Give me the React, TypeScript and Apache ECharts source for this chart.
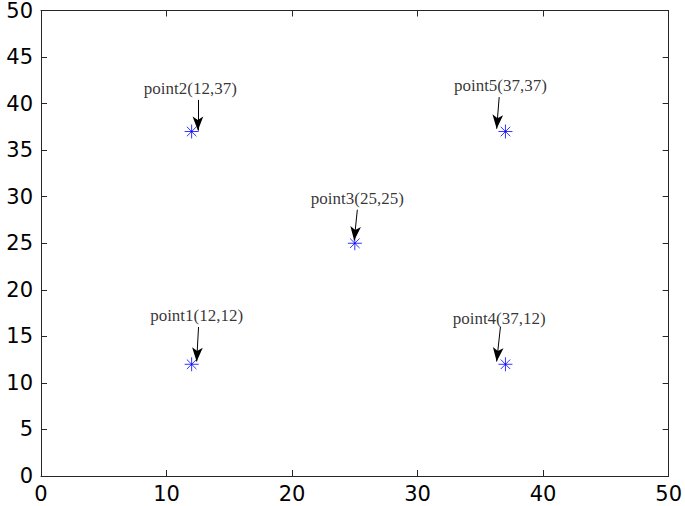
import React, { useEffect, useRef } from "react";
import * as echarts from "echarts";

const pointNames = ["point1", "point2", "point3", "point4", "point5"];
const pointX = [12, 12, 25, 37, 37];
const pointY = [12, 37, 25, 12, 37];
// annotation text anchor (data coords)
const textX = [12.4, 11.9, 25.2, 36.5, 36.6];
const textY = [17.2, 41.6, 29.8, 16.9, 41.9];
// arrow tail and head (data coords)
const arrowFromX = [12.55, 12.5, 25.2, 36.6, 36.5];
const arrowFromY = [16.0, 40.4, 28.6, 16.0, 40.7];
const arrowToX = [12.4, 12.5, 24.95, 36.3, 36.3];
const arrowToY = [12.3, 37.1, 25.3, 12.3, 37.3];
const axisTicks = [0, 5, 10, 15, 20, 25, 30, 35, 40, 45, 50];

const ASTERISK = "path://M0,5L10,5M5,0L5,10M1.6,1.6L8.4,8.4M8.4,1.6L1.6,8.4";

export default function App() {
  const ref = useRef<HTMLDivElement>(null);
  useEffect(() => {
    if (!ref.current) return;
    const chart = echarts.init(ref.current, undefined, { renderer: "svg" });
    const axisColor = "#262626";
    const labelFont = { fontFamily: "DejaVu Sans", fontSize: 21, color: "#000" };
    const baseX = {
      type: "value",
      min: axisTicks[0],
      max: axisTicks[axisTicks.length - 1],
      interval: 5,
      axisLine: { show: true, onZero: false, lineStyle: { color: axisColor, width: 1 } },
      axisTick: { show: true, inside: true, length: 6, lineStyle: { color: axisColor } },
      splitLine: { show: false },
    };
    const option: any = {
      animation: false,
      backgroundColor: "#fff",
      grid: { left: 41, right: 15, top: 8, bottom: 30, containLabel: false },
      xAxis: [
        { ...baseX, interval: 10, position: "bottom", axisLabel: { ...labelFont, margin: 7 } },
        { ...baseX, interval: 10, position: "top", axisLabel: { show: false } },
      ],
      yAxis: [
        { ...baseX, position: "left", axisLabel: { ...labelFont, margin: 8 } },
        { ...baseX, position: "right", axisLabel: { show: false } },
      ],
      series: [
        {
          type: "scatter",
          xAxisIndex: 0,
          yAxisIndex: 0,
          symbol: ASTERISK,
          symbolSize: 14,
          itemStyle: { color: "none", borderColor: "#0000ff", borderWidth: 1 },
          data: pointX.map((x, i) => [x, pointY[i]]),
          z: 3,
        },
        {
          type: "scatter",
          xAxisIndex: 0,
          yAxisIndex: 0,
          symbolSize: 0,
          silent: true,
          itemStyle: { color: "#000" },
          data: textX.map((x, i) => ({
            value: [x, textY[i]],
            label: {
              show: true,
              position: "inside",
              formatter: `${pointNames[i]}(${pointX[i]},${pointY[i]})`,
              fontFamily: "Liberation Serif",
              fontSize: 17,
              color: "#000",
            },
          })),
          markLine: {
            silent: true,
            symbol: ["none", "arrow"],
            symbolSize: [8, 14],
            lineStyle: { color: "#000", width: 1, type: "solid" },
            itemStyle: { color: "#000" },
            label: { show: false },
            data: arrowFromX.map((x, i) => [
              { coord: [x, arrowFromY[i]] },
              { coord: [arrowToX[i], arrowToY[i]] },
            ]),
          },
        },
      ],
    };
    chart.setOption(option);
    return () => chart.dispose();
  }, []);
  return (
    <div
      ref={ref}
      style={{ position: "fixed", left: 0, top: 0, width: 685, height: 506 }}
    />
  );
}
